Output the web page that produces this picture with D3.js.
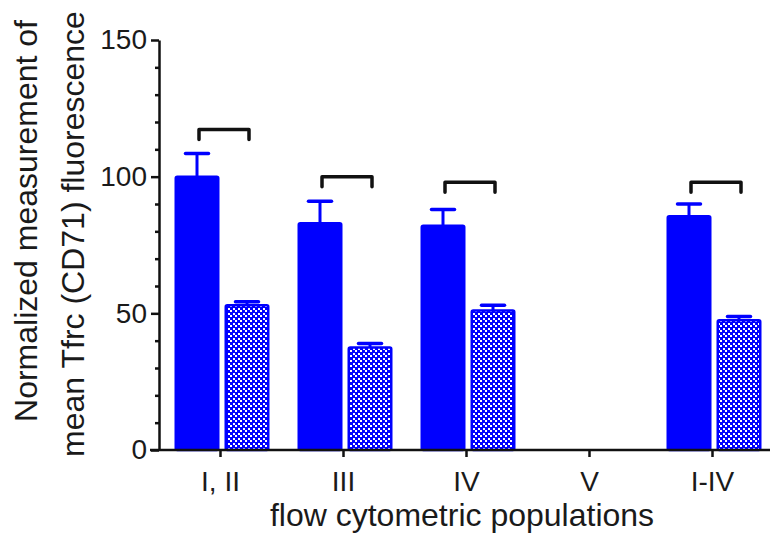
<!DOCTYPE html>
<html>
<head>
<meta charset="utf-8">
<script src="https://cdn.jsdelivr.net/npm/d3@7"></script>
<style>
  body { margin: 0; background: #fff; }
  svg { display: block; }
  .tick text { font-family: "Liberation Sans", Arial, sans-serif; fill: #1a1a1a; }
  .title { font-family: "Liberation Sans", Arial, sans-serif; fill: #1a1a1a; font-size: 32px; }
</style>
</head>
<body>
<div id="chart"></div>
<script>
// --------------------------------------------------------------------------------------
// data
// --------------------------------------------------------------------------------------
var categories = ["I, II", "III", "IV", "V", "I-IV"];
var solid_means = [100, 83, 82, null, 85.5];
var solid_errs = [8.5, 8, 6, null, 4.5];
var check_means = [53, 37.5, 51, null, 47.5];
var check_errs = [1.2, 1.5, 2, null, 1.3];
var bracket_levels = [117.3, 100, 98, null, 98];
var y_ticks = [0, 50, 100, 150];
var y_minor_ticks = [10, 20, 30, 40, 60, 70, 80, 90, 110, 120, 130, 140];
var x_title = "flow cytometric populations";
var y_title = ["Normalized measurement of", "mean Tfrc (CD71) fluorescence"];
// --------------------------------------------------------------------------------------
// draw
// --------------------------------------------------------------------------------------
function graph()
{
  var width = 770, height = 535;
  var blue = "#0000ff";

  var svg = d3.select("#chart").append("svg")
      .attr("width", width)
      .attr("height", height);

  // checkered fill
  var pat = svg.append("defs").append("pattern")
      .attr("id", "checker")
      .attr("patternUnits", "userSpaceOnUse")
      .attr("width", 5)
      .attr("height", 5);
  pat.append("rect").attr("width", 5).attr("height", 5).attr("fill", blue);
  pat.append("rect").attr("width", 2).attr("height", 2).attr("fill", "#fff");
  pat.append("rect").attr("x", 3).attr("y", 3).attr("width", 2).attr("height", 2).attr("fill", "#fff");

  // scales
  var x0 = d3.scaleBand().domain(categories).range([159, 774]);
  var x1 = d3.scaleBand().domain(["solid", "check"])
      .range([15.5, x0.bandwidth() - 12.5])
      .paddingInner(0.1);
  var y = d3.scaleLinear().domain([0, 150]).range([450, 40]);

  // rows for the bars
  var rows = [];
  categories.forEach(function(c, i) {
    if(solid_means[i] != null)
      rows.push({ cat: c, kind: "solid", mean: solid_means[i], err: solid_errs[i] });
    if(check_means[i] != null)
      rows.push({ cat: c, kind: "check", mean: check_means[i], err: check_errs[i] });
  });

  function bar_x(d) { return x0(d.cat) + x1(d.kind); }
  function bar_cx(d) { return bar_x(d) + x1.bandwidth() / 2; }

  // error bars (behind bars)
  var err = svg.append("g").attr("stroke", blue).attr("fill", "none");
  err.selectAll(".stem")
      .data(rows)
      .enter().append("line")
      .attr("x1", bar_cx).attr("x2", bar_cx)
      .attr("y1", function(d) { return y(d.mean); })
      .attr("y2", function(d) { return y(d.mean + d.err); })
      .attr("stroke-width", 3);
  err.selectAll(".cap")
      .data(rows)
      .enter().append("line")
      .attr("x1", function(d) { return bar_cx(d) - 11.5; })
      .attr("x2", function(d) { return bar_cx(d) + 11.5; })
      .attr("y1", function(d) { return y(d.mean + d.err); })
      .attr("y2", function(d) { return y(d.mean + d.err); })
      .attr("stroke-width", 3.5)
      .attr("stroke-linecap", "round");

  // bars
  var sw = 2.5;
  svg.selectAll(".bar")
      .data(rows)
      .enter().append("rect")
      .attr("x", function(d) { return bar_x(d) + sw / 2; })
      .attr("width", x1.bandwidth() - sw)
      .attr("y", function(d) { return y(d.mean); })
      .attr("height", function(d) { return y(0) - y(d.mean); })
      .attr("rx", 1.5)
      .attr("fill", function(d) { return d.kind == "solid" ? blue : "url(#checker)"; })
      .attr("stroke", blue)
      .attr("stroke-width", sw)
      .attr("stroke-linejoin", "round");

  // brackets
  var leg = 10;
  svg.append("g").selectAll("path")
      .data(categories.filter(function(c, i) { return bracket_levels[i] != null; }))
      .enter().append("path")
      .attr("d", function(c) {
        var i = categories.indexOf(c);
        var xa = x0(c) + x1("solid") + x1.bandwidth() / 2 + 2;
        var xb = x0(c) + x1("check") + x1.bandwidth() / 2 + 2;
        var yb = y(bracket_levels[i]);
        return "M" + xa + "," + (yb + leg) + "V" + yb + "H" + xb + "V" + (yb + leg);
      })
      .attr("fill", "none")
      .attr("stroke", "#111")
      .attr("stroke-width", 3.5)
      .attr("stroke-linejoin", "round")
      .attr("stroke-linecap", "round");

  // y axis
  var gy = svg.append("g")
      .attr("transform", "translate(159,0)")
      .call(d3.axisLeft(y).tickValues(y_ticks).tickSize(8).tickSizeOuter(0).tickPadding(4));
  gy.selectAll("text").style("font-size", "28px");
  gy.select(".domain").attr("stroke-width", 2.5).attr("stroke", "#111");
  gy.selectAll(".tick line").attr("stroke-width", 2.5).attr("stroke", "#111");

  var gm = svg.append("g")
      .attr("transform", "translate(159,0)")
      .call(d3.axisLeft(y).tickValues(y_minor_ticks).tickSize(4).tickFormat(""));
  gm.select(".domain").remove();
  gm.selectAll(".tick line").attr("stroke-width", 2.5).attr("stroke", "#111");

  // x axis
  var gx = svg.append("g")
      .attr("transform", "translate(0,450)")
      .call(d3.axisBottom(x0).tickSize(7).tickSizeOuter(0).tickPadding(14));
  gx.select(".domain").remove();
  gx.selectAll("text").style("font-size", "28px");
  gx.selectAll(".tick line").attr("stroke-width", 2.5).attr("stroke", "#111");
  svg.append("line")
      .attr("x1", 150).attr("x2", 770)
      .attr("y1", y(0)).attr("y2", y(0))
      .attr("stroke", "#111")
      .attr("stroke-width", 2.5);

  // titles
  svg.append("text")
      .attr("class", "title")
      .attr("x", 462)
      .attr("y", 526)
      .attr("text-anchor", "middle")
      .text(x_title);

  svg.append("text")
      .attr("class", "title")
      .attr("transform", "translate(37,221) rotate(-90)")
      .attr("text-anchor", "middle")
      .text(y_title[0]);
  svg.append("text")
      .attr("class", "title")
      .attr("transform", "translate(84,234) rotate(-90)")
      .attr("text-anchor", "middle")
      .text(y_title[1]);
}
// --------------------------------------------------------------------------------------
graph();
// --------------------------------------------------------------------------------------
</script>
</body>
</html>
